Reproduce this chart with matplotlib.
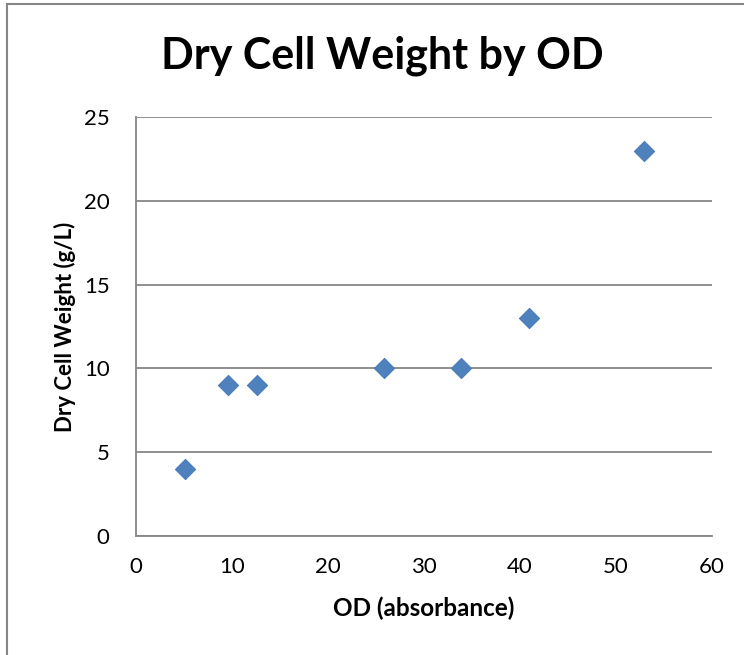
import matplotlib.pyplot as plt
from matplotlib.patches import Rectangle

# data
od = [5.1, 9.6, 12.6, 25.8, 33.9, 40.9, 52.9]
dcw = [4, 9, 9, 10, 10, 13, 23]
x_ticks = [0, 10, 20, 30, 40, 50, 60]
y_ticks = [0, 5, 10, 15, 20, 25]

plt.rcParams['font.family'] = ['Lato', 'DejaVu Sans']

fig = plt.figure(figsize=(7.44, 6.55), dpi=100)
W, H = 744, 655

# outer chart border (Excel style)
fig.patches.append(Rectangle((7 / W, -0.1), 1.2, 1 - 4 / H + 0.1, transform=fig.transFigure,
                             fill=False, edgecolor='#868686', linewidth=1.5))

ax = fig.add_axes([136 / W, 1 - 536 / H, (712 - 136) / W, (536 - 117) / H])
ax.scatter(od, dcw, marker='D', s=105, color='#4F81BD', edgecolor='#4A7EBB',
           linewidth=0.8, zorder=3)

ax.set_xlim(0, 60)
ax.set_ylim(0, 25)
ax.set_xticks(x_ticks)
ax.set_yticks(y_ticks)
ax.tick_params(length=0, labelsize=16)
ax.tick_params(axis='x', pad=15)
ax.tick_params(axis='y', pad=19)
ax.yaxis.grid(True, color='#868686', linewidth=1.3)
ax.set_axisbelow(True)
for s in ['top', 'right']:
    ax.spines[s].set_visible(False)
for s in ['left', 'bottom']:
    ax.spines[s].set_color('#868686')
    ax.spines[s].set_linewidth(1.3)

ax.set_xlabel('OD (absorbance)', fontsize=17.5, fontweight='bold', labelpad=14)
ax.set_ylabel('Dry Cell Weight (g/L)', fontsize=16, fontweight='bold', labelpad=6)
fig.text(382 / W, 1 - 56 / H, 'Dry Cell Weight by OD', fontsize=31, fontweight='bold',
         ha='center', va='center')

fig.savefig('out.png', dpi=100)
